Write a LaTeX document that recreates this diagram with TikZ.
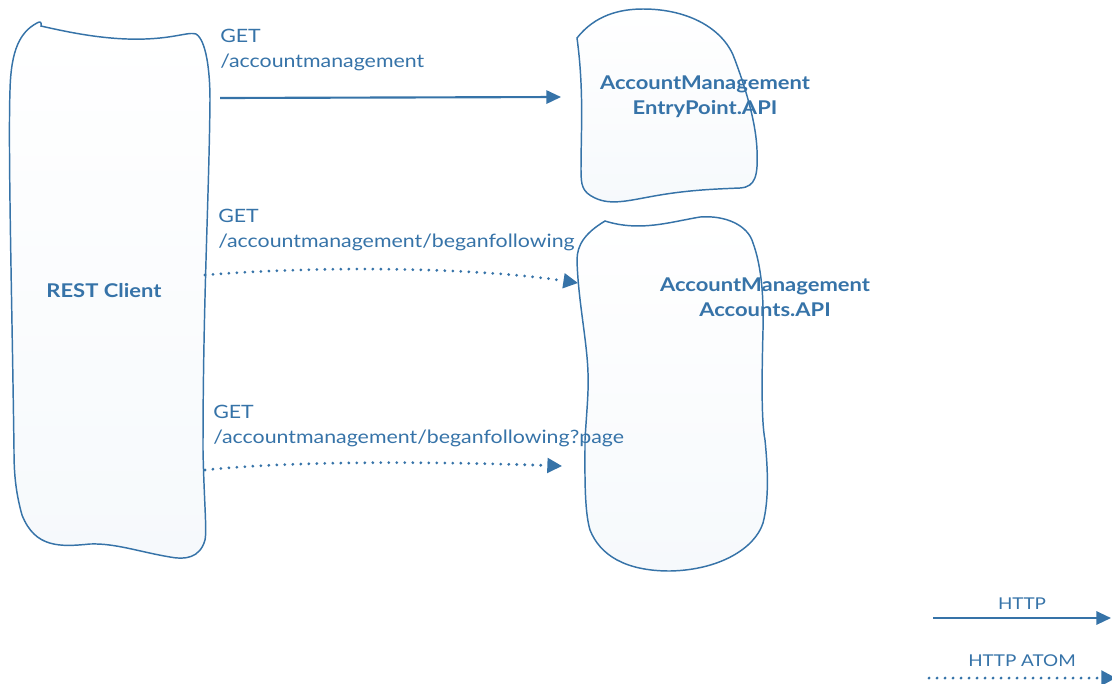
\documentclass[tikz,border=0pt]{standalone}
\usepackage{fontspec}
\setmainfont{Lato}[FakeStretch=1.16]
\usetikzlibrary{arrows.meta}
\definecolor{ink}{RGB}{54,115,168}
\definecolor{fillbot}{RGB}{246,249,252}
\tikzset{
  blob/.style={draw=ink, line width=1.1pt, top color=white, bottom color=fillbot},
  lbl/.style={text=ink, font=\fontsize{13.8}{18.75}\selectfont, align=left, inner sep=0pt, anchor=north west},
  title/.style={text=ink, font=\fontsize{14.2}{18.75}\selectfont\bfseries, align=center, inner sep=0pt},
  leg/.style={text=ink, font=\fontsize{12.2}{15}\selectfont, inner sep=0pt},
  httparrow/.style={draw=ink, line width=1.6pt, -{Triangle[length=11pt,width=10pt]}},
  atomarrow/.style={draw=ink, line width=2.3pt, line cap=round, dash pattern=on 0pt off 6pt, -{Triangle[length=11pt,width=11pt]}},
}
\begin{document}
\begin{tikzpicture}[x=0.75pt,y=-0.75pt]
\useasboundingbox (0,0) rectangle (1112,683);

% REST Client shape
\path[blob] (41,26) .. controls (80,35) and (120,42) .. (160,38)
  .. controls (180,36) and (190,32) .. (196,34)
  .. controls (206,40) and (210,70) .. (210,100)
  .. controls (209,200) and (203,300) .. (203,450)
  .. controls (204,500) and (207,530) .. (205,540)
  .. controls (200,558) and (185,560) .. (170,557)
  .. controls (140,552) and (115,543) .. (90,544)
  .. controls (60,547) and (35,548) .. (22,515)
  .. controls (15,490) and (14,470) .. (14,450)
  .. controls (12,300) and (8,150) .. (10,90)
  .. controls (11,50) and (20,32) .. (37,23)
  .. controls (40,21) and (42,22) .. (41,26) -- cycle;
\node[title] (client) at (104,291) {REST Client};

% EntryPoint shape
\path[blob] (577,38) .. controls (595,15) and (620,9) .. (643,9)
  .. controls (690,9) and (725,30) .. (735,60)
  .. controls (748,95) and (756,125) .. (757,150)
  .. controls (758,175) and (756,187) .. (740,188)
  .. controls (715,189) and (690,190) .. (660,195)
  .. controls (630,200) and (612,206) .. (595,198)
  .. controls (582,192) and (581,185) .. (581,170)
  .. controls (581,130) and (584,90) .. (577,38) -- cycle;
\node[title] (entry) at (705,97) {AccountManagement\\EntryPoint.API};

% Accounts shape
\path[blob] (605,221) .. controls (640,232) and (670,222) .. (700,217)
  .. controls (725,215) and (748,225) .. (753,243)
  .. controls (760,262) and (764,290) .. (763,330)
  .. controls (762,370) and (761,420) .. (765,440)
  .. controls (768,470) and (769,500) .. (763,523)
  .. controls (755,548) and (720,570) .. (670,571)
  .. controls (625,571) and (600,555) .. (590,530)
  .. controls (584,510) and (585,470) .. (585,440)
  .. controls (586,420) and (589,390) .. (588,373)
  .. controls (587,340) and (578,300) .. (577,260)
  .. controls (577,245) and (585,233) .. (605,221) -- cycle;
\node[title] (accounts) at (765,297) {AccountManagement\\Accounts.API};

% connectors
\coordinate (a1s) at (220,98);
\coordinate (a1e) at (561,97);
\draw[httparrow] (a1s) -- (a1e);
\node[lbl] (l1) at (220,29) {GET\\/accountmanagement};

\coordinate (a2s) at (205,275);
\coordinate (a2e) at (578,283);
\draw[atomarrow] (a2s) .. controls (330,265) and (480,268) .. (a2e);
\node[lbl] (l2) at (218,209) {GET\\/accountmanagement/beganfollowing};

\coordinate (a3s) at (205,470);
\coordinate (a3e) at (562,466);
\draw[atomarrow] (a3s) .. controls (300,460) and (450,462) .. (a3e);
\node[lbl] (l3) at (213,405) {GET\\/accountmanagement/beganfollowing?page};

% legend
\node[leg] (lhttp) at (1022,604) {HTTP};
\coordinate (h1s) at (933,618);
\coordinate (h1e) at (1111,618);
\draw[httparrow] (h1s) -- (h1e);
\node[leg] (latom) at (1022,661) {HTTP ATOM};
\coordinate (h2s) at (929,678);
\coordinate (h2e) at (1116,678);
\draw[atomarrow] (h2s) -- (h2e);
\end{tikzpicture}
\end{document}
